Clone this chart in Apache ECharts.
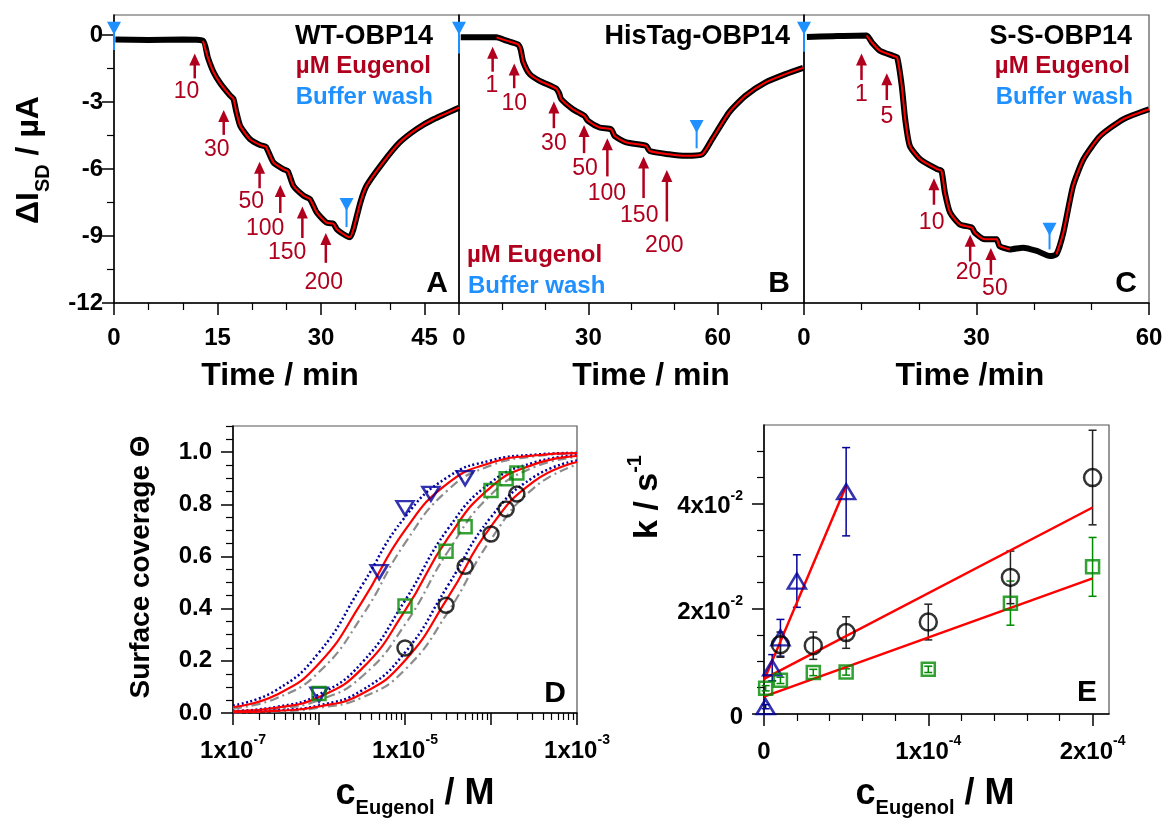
<!DOCTYPE html>
<html>
<head>
<meta charset="utf-8">
<script src="https://cdn.jsdelivr.net/npm/echarts@6/dist/echarts.min.js"></script>
<title>OBP14 eugenol binding</title>
</head>
<body style="margin:0">
<div id="container" style="width:1167px;height:819px"></div>
<script type="text/javascript">

// ---- top row: drain current traces, [time / min, dI / uA]
let wtTrace = [[0.2,-0.2],[5,-0.22],[10,-0.2],[12.9,-0.25],[13.6,-1.0],[14.4,-1.64],[15.4,-2.16],[16.8,-2.7],[17.3,-2.85],[17.7,-3.4],[18.3,-4.07],[19.7,-4.66],[21.2,-4.93],[22.0,-5.0],[23.1,-5.7],[24.5,-6.0],[25.2,-6.1],[26,-6.75],[27.5,-7.2],[28.4,-7.35],[29.4,-7.95],[30.8,-8.4],[31.8,-8.45],[32.3,-8.7],[33.7,-9.0],[34.2,-9.05],[34.7,-8.7],[35.7,-7.5],[36.6,-6.75],[39,-5.7],[41.4,-4.81],[43.9,-4.2],[46.3,-3.77],[50,-3.25]];
let hisTrace = [[0.4,-0.1],[5,-0.1],[8.7,-0.1],[11,-0.25],[13.7,-0.42],[14.3,-0.65],[14.9,-1.2],[16.4,-1.75],[18.7,-2.05],[22.5,-2.39],[23.2,-2.6],[23.7,-2.87],[26.4,-3.32],[29.1,-3.62],[29.9,-3.84],[32.6,-4.14],[35.3,-4.22],[36.1,-4.52],[38.8,-4.81],[43.4,-4.96],[44.2,-5.19],[48.7,-5.34],[52.6,-5.41],[56.4,-5.34],[58.7,-4.66],[62.6,-3.47],[66.4,-2.72],[71.1,-2.12],[75.7,-1.75],[79.8,-1.47]];
let ssTrace = [[0.5,-0.08],[5,-0.05],[10.9,-0.02],[11.8,-0.33],[13.2,-0.7],[15.5,-0.93],[16.2,-1.0],[17.0,-2.27],[17.6,-3.77],[18.4,-4.96],[20.2,-5.56],[23.1,-6.0],[23.9,-6.08],[24.5,-7.05],[25.4,-7.95],[27.1,-8.48],[29.2,-8.62],[29.7,-8.85],[31.5,-9.15],[33.5,-9.15],[34.0,-9.45],[35.8,-9.6],[38.1,-9.52],[40.5,-9.67],[42.8,-9.9],[43.9,-9.82],[45.1,-8.85],[46.8,-6.75],[48.6,-5.56],[51.5,-4.52],[55.5,-3.77],[60,-3.32]];

// eugenol additions: [time, tip dI, tail dI, uM, label time, label dI]
let wtArrows = [[11.7,-0.82,-1.94,10,10.5,-2.53],[15.9,-3.35,-4.47,30,14.9,-5.14],[21.1,-5.67,-6.86,50,19.9,-7.45],[24.1,-6.71,-7.97,100,21.9,-8.69],[27.3,-7.68,-9.09,150,25.1,-9.74],[30.7,-8.87,-10.2,200,30.4,-11.1]];
let hisArrows = [[7.8,-0.52,-1.64,1,7.6,-2.28],[12.8,-1.27,-2.38,10,12.8,-3.09],[22.0,-2.98,-4.17,30,22.0,-4.87],[29.0,-4.03,-5.29,50,29.2,-6.0],[34.4,-4.62,-6.33,100,34.3,-7.08],[42.8,-5.44,-7.3,150,41.8,-8.1],[48.2,-6.04,-8.35,200,47.6,-9.44]];
let ssArrows = [[10.0,-0.82,-2.01,1,10.0,-2.68],[14.4,-1.71,-2.91,5,14.4,-3.65],[22.6,-6.41,-7.6,10,22.2,-8.39],[28.9,-8.94,-10.14,20,28.6,-10.63],[32.5,-9.54,-10.73,50,33.2,-11.37]];

// buffer wash: [time, top dI, bottom dI]
let wtWash = [[0,0.6,-0.67],[33.7,-7.3,-8.6]];
let hisWash = [[0,0.6,-0.82],[55.1,-3.8,-5.07]];
let ssWash = [[0,0.6,-0.75],[42.7,-8.4,-9.6]];

let topYTicks = [-12,-9,-6,-3,0];
let aTimeTicks = [0,15,30,45];
let bcTimeTicks = [0,30,60];

// ---- panel D: surface coverage vs log10(c / M)
let dGrid = [-7,-6.5,-6,-5.5,-5,-4.5,-4,-3.5,-3];
let ssBlue = [0.029,0.087,0.232,0.489,0.751,0.905,0.968,0.990,0.997];
let ssRed = [0.023,0.069,0.190,0.426,0.701,0.881,0.959,0.987,0.996];
let ssGray = [0.018,0.056,0.157,0.371,0.651,0.855,0.949,0.983,0.995];
let hisBlue = [0.008,0.023,0.071,0.193,0.431,0.706,0.884,0.960,0.987];
let hisRed = [0.006,0.020,0.061,0.170,0.392,0.671,0.866,0.953,0.985];
let hisGray = [0.005,0.016,0.049,0.140,0.339,0.619,0.837,0.942,0.981];
let wtBlue = [0.003,0.010,0.029,0.087,0.232,0.489,0.751,0.905,0.968];
let wtRed = [0.003,0.008,0.025,0.074,0.201,0.443,0.715,0.888,0.962];
let wtGray = [0.002,0.006,0.020,0.059,0.166,0.387,0.666,0.863,0.952];

let ssConc = [1e-6,5e-6,1e-5,2e-5,5e-5];
let ssTheta = [0.07,0.54,0.785,0.84,0.90];
let hisConc = [1e-6,1e-5,3e-5,5e-5,1e-4,1.5e-4,2e-4];
let hisTheta = [0.075,0.41,0.62,0.714,0.853,0.898,0.92];
let wtConc = [1e-5,3e-5,5e-5,1e-4,1.5e-4,2e-4];
let wtTheta = [0.249,0.413,0.562,0.686,0.782,0.839];

// ---- panel E: rate constants
let ssK = [0.0014,0.0088,0.0145,0.0253,0.0423];
let ssKErr = [0.0004,0.0025,0.0035,0.005,0.0084];
let hisK = [0.0049,0.0064,0.0079,0.0080,0.0085,0.0211,0.028];
let hisKErr = [0.0005,0.0006,0.0006,0.0006,0.0006,0.0042,0.0056];
let wtK = [0.0132,0.0130,0.0155,0.0175,0.026,0.045];
let wtKErr = [0.0024,0.0026,0.003,0.0034,0.005,0.009];
let ssFit = [[0,0.0064],[5e-5,0.0434]];
let wtFit = [[0,0.0067],[2e-4,0.0393]];
let hisFit = [[0,0.0033],[2e-4,0.0258]];

const FONT = '"Liberation Sans", Arial, sans-serif';
const RED = '#ff0000', DARKRED = '#b0001e', WASH = '#1e90ff';
const NAVY = '#00009c', GREEN = '#008a00', GRAY = '#8c8c8c';

const RICH = {
    b: {fontFamily: FONT, fontWeight: 'bold', fontSize: 24, lineHeight: 30, verticalAlign: 'bottom', color: '#000'},
    s: {fontFamily: FONT, fontWeight: 'bold', fontSize: 14, lineHeight: 30, verticalAlign: 'top', color: '#000'}
};

function range(from, to, step, skip) {
    let out = [];
    for (let v = from; v <= to + step / 1000; v += step) {
        let r = Math.round(v / step) * step;
        if (!skip.some(s => Math.abs(s - r) < step / 100)) out.push(r);
    }
    return out;
}

function axes(dim, gridIndex, min, max, majors, minors, labels, fmt, margin) {
    let pos = dim === 'x' ? 'bottom' : 'left';
    let main = {
        type: 'value', gridIndex: gridIndex, min: min, max: max, position: pos,
        axisLine: {show: true, onZero: false, lineStyle: {color: '#000', width: 1.5}},
        axisTick: majors.length ? {show: true, customValues: majors, length: 12, lineStyle: {color: '#000', width: 1.5}} : {show: false},
        axisLabel: labels.length ? {show: true, customValues: labels, formatter: fmt, margin: margin, color: '#000',
            fontFamily: FONT, fontWeight: 'bold', fontSize: 24, rich: RICH} : {show: false},
        splitLine: {show: false}
    };
    let minor = {
        type: 'value', gridIndex: gridIndex, min: min, max: max, position: pos,
        axisLine: {show: false, onZero: false},
        axisTick: minors.length ? {show: true, customValues: minors, length: 7, lineStyle: {color: '#000', width: 1.2}} : {show: false},
        axisLabel: {show: false},
        splitLine: {show: false}
    };
    return [main, minor];
}

let xAxes = [], yAxes = [];
let plain = v => String(v);
// A, B, C
xAxes.push(...axes('x', 0, 0, 50, aTimeTicks, [5,10,20,25,35,40], aTimeTicks, plain, 23));
xAxes.push(...axes('x', 1, 0, 80, bcTimeTicks, [10,20,40,50,70], bcTimeTicks, plain, 23));
xAxes.push(...axes('x', 2, 0, 60, bcTimeTicks, [10,20,40,50], bcTimeTicks, plain, 23));
yAxes.push(...axes('y', 0, -12, 0.9, topYTicks, [-10.5,-7.5,-4.5,-1.5], topYTicks, plain, 11));
yAxes.push(...axes('y', 1, -12, 0.9, [], [], [], plain, 11));
yAxes.push(...axes('y', 2, -12, 0.9, [], [], [], plain, 11));
// D
let dMinor = [];
for (let n = -7; n < -3; n++) for (let k = 2; k <= 9; k++) dMinor.push(n + Math.log10(k));
xAxes.push(...axes('x', 3, -7, -3, [-7,-6,-5,-4,-3], dMinor, [-7,-5,-3], v => '{b|1x10}{s|' + v + '}', 20));
let dY = [0,0.2,0.4,0.6,0.8,1.0];
yAxes.push(...axes('y', 3, 0, 1.1, dY, range(0, 1.1, 0.05, dY), dY, v => v.toFixed(1), 21));
// E
let eX = [0,1e-4,2e-4], eY = [0,0.02,0.04];
xAxes.push(...axes('x', 4, 0, 2.1e-4, eX, range(0, 2.1e-4, 0.2e-4, eX), eX,
    v => v === 0 ? '{b|0}' : '{b|' + Math.round(v * 1e4) + 'x10}{s|-4}', 20));
yAxes.push(...axes('y', 4, 0, 0.055, eY, range(0, 0.05, 0.005, eY), eY,
    v => v === 0 ? '{b|0}' : '{b|' + Math.round(v * 100) + 'x10}{s|-2}', 21));

let grids = [
    {left: 114, top: 15, width: 345, height: 288},
    {left: 459, top: 15, width: 345, height: 288},
    {left: 804, top: 15, width: 345, height: 288},
    {left: 233, top: 426, width: 344, height: 287},
    {left: 764, top: 425, width: 345, height: 289}
].map(g => Object.assign({show: true, borderColor: '#555', borderWidth: 1.2}, g));

function arrowItem(params, api) {
    let tip = api.coord([api.value(0), api.value(1)]);
    let tail = api.coord([api.value(0), api.value(2)]);
    let lab = api.coord([api.value(4), api.value(5)]);
    return {type: 'group', children: [
        {type: 'line', shape: {x1: tip[0], y1: tip[1] + 8, x2: tail[0], y2: tail[1]}, style: {stroke: DARKRED, lineWidth: 2.5}},
        {type: 'polygon', shape: {points: [[tip[0], tip[1]], [tip[0] - 5.5, tip[1] + 12], [tip[0] + 5.5, tip[1] + 12]]}, style: {fill: DARKRED}},
        {type: 'text', x: lab[0], y: lab[1], style: {text: String(api.value(3)), fill: DARKRED, font: '23px ' + FONT, align: 'center', verticalAlign: 'middle'}}
    ]};
}

function washItem(params, api) {
    let top = api.coord([api.value(0), api.value(1)]);
    let bot = api.coord([api.value(0), api.value(2)]);
    return {type: 'group', children: [
        {type: 'line', shape: {x1: top[0], y1: top[1] + 6, x2: bot[0], y2: bot[1]}, style: {stroke: WASH, lineWidth: 2}},
        {type: 'polygon', shape: {points: [[top[0] - 7, top[1]], [top[0] + 7, top[1]], [top[0], top[1] + 13]]}, style: {fill: WASH}}
    ]};
}

function errItem(color) {
    return function (params, api) {
        let lo = api.coord([api.value(0), api.value(1) - api.value(2)]);
        let hi = api.coord([api.value(0), api.value(1) + api.value(2)]);
        let st = {stroke: color, lineWidth: 1.5};
        return {type: 'group', children: [
            {type: 'line', shape: {x1: lo[0], y1: lo[1], x2: hi[0], y2: hi[1]}, style: st},
            {type: 'line', shape: {x1: lo[0] - 4, y1: lo[1], x2: lo[0] + 4, y2: lo[1]}, style: st},
            {type: 'line', shape: {x1: hi[0] - 4, y1: hi[1], x2: hi[0] + 4, y2: hi[1]}, style: st}
        ]};
    };
}

let series = [];
function topPanel(g, trace, redParts, arrows, wash) {
    let ax = {xAxisIndex: 2 * g, yAxisIndex: 2 * g};
    series.push(Object.assign({type: 'line', data: trace, showSymbol: false, smooth: 0.2,
        lineStyle: {color: '#000', width: 6}, z: 2}, ax));
    redParts.forEach(r => series.push(Object.assign({type: 'line', data: trace.filter(p => p[0] >= r[0] && p[0] <= r[1]),
        showSymbol: false, smooth: 0.2, lineStyle: {color: RED, width: 2}, z: 3}, ax)));
    series.push(Object.assign({type: 'custom', renderItem: arrowItem, data: arrows, z: 5}, ax));
    series.push(Object.assign({type: 'custom', renderItem: washItem, data: wash, z: 6}, ax));
}
topPanel(0, wtTrace, [[12.9, 50]], wtArrows, wtWash);
topPanel(1, hisTrace, [[8.7, 80]], hisArrows, hisWash);
topPanel(2, ssTrace, [[10.9, 36], [43.9, 60]], ssArrows, ssWash);

// D curves and points
let dAx = {xAxisIndex: 6, yAxisIndex: 6};
function dCurve(vals, style) {
    series.push(Object.assign({type: 'line', data: dGrid.map((x, i) => [x, vals[i]]), showSymbol: false,
        smooth: 0.5, lineStyle: style, z: 2}, dAx));
}
[[ssBlue, ssRed, ssGray], [hisBlue, hisRed, hisGray], [wtBlue, wtRed, wtGray]].forEach(set => {
    dCurve(set[2], {color: GRAY, width: 2.2, type: [9, 4, 2, 4]});
    dCurve(set[0], {color: NAVY, width: 2.5, type: [2, 2.5]});
    dCurve(set[1], {color: RED, width: 2.2});
});
function openPts(ax, data, symbol, size, color, rotate) {
    series.push(Object.assign({type: 'scatter', data: data, symbol: symbol, symbolSize: size, symbolRotate: rotate || 0,
        itemStyle: {color: 'rgba(255,255,255,0)', borderColor: color, borderWidth: 2.5}, z: 4}, ax));
}
openPts(dAx, ssConc.map((c, i) => [Math.log10(c), ssTheta[i]]), 'triangle', [17, 14], NAVY, 180);
openPts(dAx, hisConc.map((c, i) => [Math.log10(c), hisTheta[i]]), 'rect', 13, GREEN);
openPts(dAx, wtConc.map((c, i) => [Math.log10(c), wtTheta[i]]), 'circle', 15, '#000');

// E
let eAx = {xAxisIndex: 8, yAxisIndex: 8};
[[ssFit], [wtFit], [hisFit]].forEach(f => series.push(Object.assign({type: 'line', data: f[0], showSymbol: false,
    lineStyle: {color: RED, width: 2.5}, z: 3}, eAx)));
[[ssConc, ssK, ssKErr, NAVY], [hisConc, hisK, hisKErr, GREEN], [wtConc, wtK, wtKErr, '#222']].forEach(s => {
    series.push(Object.assign({type: 'custom', renderItem: errItem(s[3]), data: s[0].map((c, i) => [c, s[1][i], s[2][i]]), z: 2}, eAx));
});
openPts(eAx, ssConc.map((c, i) => [c, ssK[i]]), 'triangle', [18, 15], NAVY);
openPts(eAx, hisConc.map((c, i) => [c, hisK[i]]), 'rect', 13, GREEN);
openPts(eAx, wtConc.map((c, i) => [c, wtK[i]]), 'circle', 17, '#000');

function txt(x, y, text, size, color, align, extra) {
    return Object.assign({type: 'text', x: x, y: y, z: 10, style: {text: text, fill: color,
        font: 'bold ' + size + 'px ' + FONT, align: align, verticalAlign: 'middle'}}, extra || {});
}
function richTxt(x, y, text, rich, rotation) {
    return {type: 'text', x: x, y: y, rotation: rotation || 0, z: 10,
        style: {text: text, rich: rich, align: 'center', verticalAlign: 'middle'}};
}
let tok = (size, lh, va) => ({fontFamily: FONT, fontWeight: 'bold', fontSize: size, lineHeight: lh, verticalAlign: va, fill: '#000', color: '#000'});

let graphic = [
    txt(433, 37, 'WT-OBP14', 27, '#000', 'right'),
    txt(431, 66, 'µM Eugenol', 24, DARKRED, 'right'),
    txt(433, 97, 'Buffer wash', 24, WASH, 'right'),
    txt(790, 37, 'HisTag-OBP14', 27, '#000', 'right'),
    txt(467, 255, 'µM Eugenol', 24, DARKRED, 'left'),
    txt(468, 286, 'Buffer wash', 24, WASH, 'left'),
    txt(1132, 37, 'S-S-OBP14', 27, '#000', 'right'),
    txt(1130, 66, 'µM Eugenol', 24, DARKRED, 'right'),
    txt(1133, 97, 'Buffer wash', 24, WASH, 'right'),
    txt(448, 284, 'A', 30, '#000', 'right'),
    txt(790, 284, 'B', 30, '#000', 'right'),
    txt(1137, 284, 'C', 30, '#000', 'right'),
    txt(566, 694, 'D', 30, '#000', 'right'),
    txt(1097, 693, 'E', 30, '#000', 'right'),
    txt(280, 376, 'Time / min', 32, '#000', 'center'),
    txt(651, 376, 'Time / min', 32, '#000', 'center'),
    txt(970, 376, 'Time /min', 32, '#000', 'center'),
    txt(141, 567, 'Surface coverage Θ', 28, '#000', 'center', {rotation: Math.PI / 2}),
    richTxt(33, 160, '{a|ΔI}{s|SD}{a| / µA}', {a: tok(32, 40, 'top'), s: tok(20, 40, 'bottom')}, Math.PI / 2),
    richTxt(415, 797, '{a|c}{s|Eugenol}{a| / M}', {a: tok(36, 42, 'top'), s: tok(20, 42, 'bottom')}),
    richTxt(935, 797, '{a|c}{s|Eugenol}{a| / M}', {a: tok(36, 42, 'top'), s: tok(20, 42, 'bottom')}),
    richTxt(645, 497, '{a|k / s}{p|-1}', {a: tok(34, 40, 'bottom'), p: tok(20, 40, 'top')}, Math.PI / 2)
];

let chart = echarts.init(document.getElementById('container'));
chart.setOption({
    animation: false,
    backgroundColor: '#fff',
    grid: grids,
    xAxis: xAxes,
    yAxis: yAxes,
    series: series,
    graphic: graphic
});
</script>
</body>
</html>
